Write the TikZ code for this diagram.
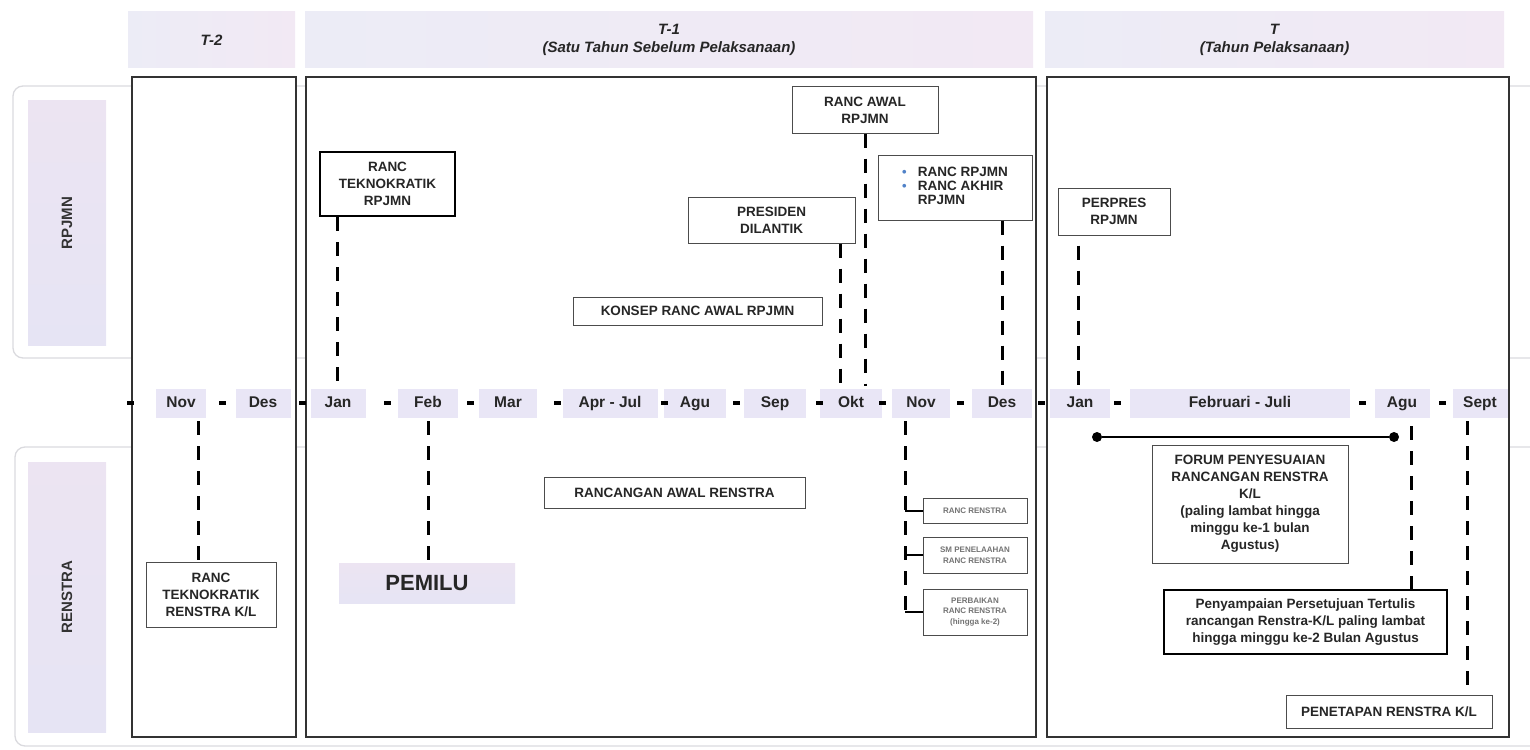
\documentclass[tikz,border=0pt]{standalone}
\usepackage{fontspec}
\setmainfont{Liberation Sans}
\usetikzlibrary{calc}
\definecolor{lav}{RGB}{230,228,244}
\definecolor{lavB}{RGB}{236,228,242}
\definecolor{hdrA}{RGB}{236,236,246}
\definecolor{hdrB}{RGB}{242,233,244}
\definecolor{mon}{RGB}{233,230,246}
\definecolor{bandline}{RGB}{218,218,222}
\definecolor{bul}{RGB}{80,130,200}
\begin{document}
\begin{tikzpicture}[x=1pt,y=-1pt,
  col/.style={draw=black!80,line width=1.7pt,fill=white,inner sep=0pt},
  band/.style={draw=bandline,line width=1.3pt,rounded corners=10pt},
  hdrband/.style={left color=hdrA,right color=hdrB,draw=none,inner sep=0pt,align=center,font=\bfseries\itshape\fontsize{15}{18}\selectfont,text=black!85},
  lavbox/.style={top color=lavB,bottom color=lav,draw=none,inner sep=0pt},
  sidetext/.style={rotate=90,font=\bfseries\fontsize{15}{17}\selectfont,text=black!80},
  box/.style={draw=black!70,line width=1pt,fill=white,align=center,inner sep=2pt,font=\bfseries\fontsize{13.5}{17}\selectfont,text=black!85},
  thickbox/.style={box,draw=black,line width=2.6pt},
  tinybox/.style={box,font=\bfseries\fontsize{8}{10.5}\selectfont,text=black!55},
  month/.style={fill=mon,inner sep=0pt,minimum height=29pt,text height=11.5pt,text depth=3.5pt,font=\bfseries\fontsize{15.5}{17}\selectfont,text=black!85},
  sepdash/.style={fill=black,inner sep=0pt,minimum width=7pt,minimum height=4pt},
  dashline/.style={line width=3pt,dash pattern=on 14pt off 11pt},
  branch/.style={line width=2pt},
  dot/.style={circle,fill=black,inner sep=0pt,minimum size=10pt},
]
\useasboundingbox (0,0) rectangle (1530,749);
\clip (0,0) rectangle (1530,749);

% row bands
\draw[band] (13,86) rectangle (1570,358);
\draw[band] (15,447) rectangle (1570,746);
\node[lavbox,minimum width=78pt,minimum height=244pt] (lr) at (67,223) {};
\node[sidetext] (lrt) at (lr) {RPJMN};
\node[lavbox,minimum width=78pt,minimum height=270pt] (ls) at (67,597) {};
\node[sidetext] (lst) at (ls) {RENSTRA};

% header bands
\node[hdrband,minimum width=167pt,minimum height=56pt] (h2) at (211.5,40) {T-2};
\node[hdrband,minimum width=728pt,minimum height=56pt] (h1) at (669,40) {T-1\\(Satu Tahun Sebelum Pelaksanaan)};
\node[hdrband,minimum width=459pt,minimum height=56pt] (h0) at (1274.5,40) {T\\(Tahun Pelaksanaan)};

% columns
\node[col,minimum width=164pt,minimum height=660pt] (c2) at (214,407) {};
\node[col,minimum width=730pt,minimum height=660pt] (c1) at (671,407) {};
\node[col,minimum width=462pt,minimum height=660pt] (c0) at (1278,407) {};

% month bar
\node[month,minimum width=50pt] (m1) at (181,403) {Nov};
\node[month,minimum width=55pt] (m2) at (263,403) {Des};
\node[month,minimum width=55pt] (m3) at (338,403) {Jan};
\node[month,minimum width=60pt] (m4) at (428,403) {Feb};
\node[month,minimum width=58pt] (m5) at (508,403) {Mar};
\node[month,minimum width=95pt] (m6) at (610,403) {Apr - Jul};
\node[month,minimum width=62pt] (m7) at (695,403) {Agu};
\node[month,minimum width=62pt] (m8) at (775,403) {Sep};
\node[month,minimum width=62pt] (m9) at (851,403) {Okt};
\node[month,minimum width=58pt] (m10) at (921,403) {Nov};
\node[month,minimum width=60pt] (m11) at (1002,403) {Des};
\node[month,minimum width=60pt] (m12) at (1080,403) {Jan};
\node[month,minimum width=220pt] (m13) at (1240,403) {Februari - Juli};
\node[month,minimum width=55pt] (m14) at (1402,403) {Agu};
\node[month,minimum width=55pt] (m15) at (1480,403) {Sept};
\foreach \x [count=\i] in {130,222,302,387,470,557,664,736,819,882,960,1041,1117,1362,1442}
  \node[sepdash] (s\i) at (\x,403) {};

% RPJMN boxes
\node[thickbox,minimum width=135pt,minimum height=64pt] (rtr) at (387.5,184) {RANC\\TEKNOKRATIK\\RPJMN};
\node[box,minimum width=249pt,minimum height=28pt] (konsep) at (697.5,311) {KONSEP RANC AWAL RPJMN};
\node[box,minimum width=167pt,minimum height=46pt] (pres) at (771.5,220) {PRESIDEN\\DILANTIK};
\node[box,minimum width=146pt,minimum height=46pt] (rawal) at (865,110) {RANC AWAL\\RPJMN};
\node[box,minimum width=154pt,minimum height=65pt] (rrp) at (955,187.5) {\begin{tabular}{@{}l@{\hspace{11pt}}l@{}}\textcolor{bul}{\fontsize{13}{13}\selectfont\textbullet} & RANC RPJMN\\[-3pt] \textcolor{bul}{\fontsize{13}{13}\selectfont\textbullet} & RANC AKHIR\\[-3pt] & RPJMN\end{tabular}};
\node[box,minimum width=112pt,minimum height=47pt] (perpres) at (1114,211.5) {PERPRES\\RPJMN};

% RENSTRA boxes
\node[box,minimum width=130pt,minimum height=65pt] (rtrk) at (211,594.5) {RANC\\TEKNOKRATIK\\RENSTRA K/L};
\node[lavbox,minimum width=176pt,minimum height=40pt,font=\bfseries\fontsize{22}{24}\selectfont,text=black!85] (pem) at (427,583) {PEMILU};
\node[box,minimum width=261pt,minimum height=31pt] (rar) at (674.5,492.5) {RANCANGAN AWAL RENSTRA};
\node[tinybox,minimum width=104pt,minimum height=25pt] (sa) at (975,510.5) {RANC RENSTRA};
\node[tinybox,minimum width=104pt,minimum height=36pt] (sb) at (975,555) {SM PENELAAHAN\\RANC RENSTRA};
\node[tinybox,minimum width=104pt,minimum height=46pt] (sc) at (975,612) {PERBAIKAN\\RANC RENSTRA\\(hingga ke-2)};
\node[box,minimum width=196pt,minimum height=118pt] (forum) at (1250,504) {FORUM PENYESUAIAN\\RANCANGAN RENSTRA\\K/L\\(paling lambat hingga\\minggu ke-1 bulan\\Agustus)};
\node[thickbox,minimum width=283pt,minimum height=64pt] (peny) at (1305.5,622) {Penyampaian Persetujuan Tertulis\\rancangan Renstra-K/L paling lambat\\hingga minggu ke-2 Bulan Agustus};
\node[box,minimum width=206pt,minimum height=33pt] (pen) at (1389,711.5) {PENETAPAN RENSTRA K/L};

% forum period line
\node[dot] (fa) at (1097,437) {};
\node[dot] (fb) at (1394,437) {};
\draw[line width=2.4pt] (fa) -- (fb);

% dashed connectors upward (RPJMN)
\coordinate (uJan) at (337,386);
\coordinate (uOk1) at (840,386);
\coordinate (uOk2) at (865,386);
\coordinate (uDes) at (1002,386);
\coordinate (uJan2) at (1078,386);
\draw[dashline] (rtr.south -| uJan) -- (uJan);
\draw[dashline] (pres.south -| uOk1) -- (uOk1);
\draw[dashline] (rawal.south -| uOk2) -- (uOk2);
\draw[dashline] (rrp.south -| uDes) -- (uDes);
\draw[dashline] ([yshift=-10pt]perpres.south -| uJan2) -- (uJan2);

% dashed connectors downward (RENSTRA)
\coordinate (dNov) at (198,421);
\coordinate (dFeb) at (428,421);
\coordinate (dNov2) at (905,421);
\coordinate (dAgu) at (1411,426);
\coordinate (dSep) at (1467,421);
\draw[dashline] (dNov) -- (dNov |- rtrk.north);
\draw[dashline] (dFeb) -- (dFeb |- pem.north);
\draw[dashline] (dNov2) -- (dNov2 |- sc.west);
\draw[dashline] (dAgu) -- (dAgu |- peny.north);
\draw[dashline] (dSep) -- (dSep |- pen.north);
\draw[branch] (sa.west -| dNov2) -- (sa.west);
\draw[branch] (sb.west -| dNov2) -- (sb.west);
\draw[branch] (sc.west -| dNov2) -- (sc.west);
\end{tikzpicture}
\end{document}
